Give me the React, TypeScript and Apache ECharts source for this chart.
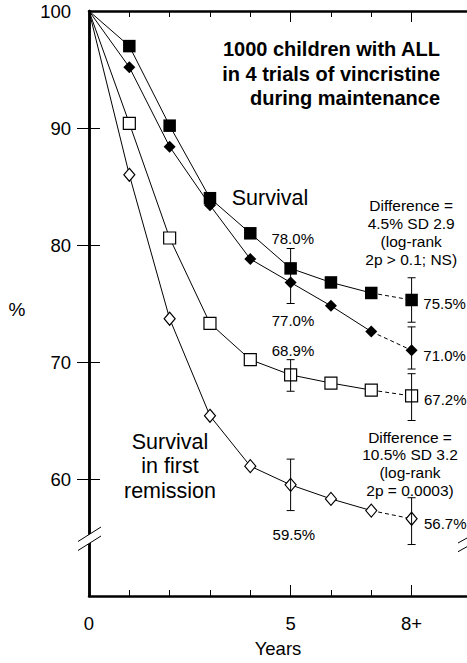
import React, { useEffect, useRef } from "react";
import * as echarts from "echarts";

// ---- data ----
const years = [0, 1, 2, 3, 4, 5, 6, 7, 8];
const survivalSquare = [100, 97.0, 90.2, 84.0, 81.0, 78.0, 76.8, 75.9, 75.3];
const survivalDiamond = [100, 95.2, 88.4, 83.4, 78.8, 76.8, 74.8, 72.6, 71.0];
const remissionSquare = [100, 90.4, 80.6, 73.3, 70.2, 68.9, 68.2, 67.6, 67.1];
const remissionDiamond = [100, 86.0, 73.7, 65.4, 61.1, 59.5, 58.3, 57.3, 56.6];
// [year, low, high]
const errorBars = [
  [5, 75.0, 79.7],
  [8, 73.4, 77.2],
  [8, 69.4, 73.0],
  [5, 67.5, 70.2],
  [8, 65.0, 69.0],
  [5, 57.3, 61.7],
  [8, 54.4, 58.4],
];
const yLabelValues = [60, 70, 80, 90, 100];
const yTickValues = [60, 70, 80, 90];
const xLabelValues = [0, 5, 8];
const xMinorTicks = [1, 2, 3, 4, 6, 7];
const xMajorTicks = [5, 8];

const FONT = '"Liberation Sans", Arial, Helvetica, sans-serif';
const X_MAX = 9.374;

function groupSeries(values: number[], symbol: string, size: any, filled: boolean) {
  const itemStyle = filled
    ? { color: "#000" }
    : { color: "#fff", borderColor: "#000", borderWidth: 1.2 };
  const solid = years.slice(0, 8).map((yr, i) =>
    i === 0 ? { value: [yr, values[i]], symbol: "none" } : { value: [yr, values[i]] }
  );
  const dashed = [
    { value: [years[7], values[7]], symbol: "none" },
    { value: [years[8], values[8]] },
  ];
  const common: any = {
    type: "line",
    xAxisIndex: 0,
    yAxisIndex: 0,
    symbol,
    symbolSize: size,
    itemStyle,
    z: 3,
  };
  return [
    { ...common, data: solid, lineStyle: { color: "#000", width: 1 } },
    { ...common, data: dashed, lineStyle: { color: "#000", width: 1, type: [4, 3] } },
  ];
}

function txt(text: string, x: number, y: number, fontSize: number, align: string, extra: any = {}) {
  return {
    type: "text",
    x,
    y,
    z: 50,
    style: {
      text,
      fill: "#000",
      fontSize,
      fontFamily: FONT,
      align,
      verticalAlign: "middle",
      ...extra,
    },
  };
}

export default function App() {
  const ref = useRef<HTMLDivElement>(null);
  useEffect(() => {
    document.body.style.margin = "0";
    if (!ref.current) return;
    const chart = echarts.init(ref.current, undefined, { renderer: "svg" });
    const axisLine = { show: true, lineStyle: { color: "#000", width: 2.5 } };
    const noLabel = { show: false };
    const option: any = {
      animation: false,
      grid: { left: 89, right: -4, top: 11, bottom: 63 },
      xAxis: [
        {
          type: "value",
          position: "bottom",
          min: 0,
          max: X_MAX,
          axisLine,
          splitLine: { show: false },
          axisTick: { show: true, inside: true, length: 6, customValues: xMinorTicks, lineStyle: { color: "#000", width: 1 } },
          axisLabel: {
            show: true,
            customValues: xLabelValues,
            formatter: (v: number) => (v === 8 ? "8+" : String(v)),
            color: "#000",
            fontSize: 18.5,
            fontFamily: FONT,
            margin: 18,
          },
          name: "Years",
          nameLocation: "middle",
          nameGap: 43,
          nameTextStyle: { color: "#000", fontSize: 18.5, fontFamily: FONT },
        },
        {
          type: "value",
          position: "bottom",
          min: 0,
          max: X_MAX,
          axisLine: { show: false },
          splitLine: { show: false },
          axisTick: { show: true, inside: true, length: 11, customValues: xMajorTicks, lineStyle: { color: "#000", width: 1 } },
          axisLabel: noLabel,
        },
        {
          type: "value",
          position: "top",
          min: 0,
          max: X_MAX,
          axisLine,
          splitLine: { show: false },
          axisTick: { show: true, inside: true, length: 6, customValues: xMinorTicks, lineStyle: { color: "#000", width: 1 } },
          axisLabel: noLabel,
        },
        {
          type: "value",
          position: "top",
          min: 0,
          max: X_MAX,
          axisLine: { show: false },
          splitLine: { show: false },
          axisTick: { show: true, inside: true, length: 11, customValues: xMajorTicks, lineStyle: { color: "#000", width: 1 } },
          axisLabel: noLabel,
        },
      ],
      yAxis: [
        {
          type: "value",
          position: "left",
          min: 50,
          max: 100,
          interval: 10,
          axisLine,
          splitLine: { show: false },
          axisTick: { show: true, inside: true, length: 11, customValues: yTickValues, lineStyle: { color: "#000", width: 1 } },
          axisLabel: {
            show: true,
            customValues: yLabelValues,
            color: "#000",
            fontSize: 18.5,
            fontFamily: FONT,
            margin: 18,
          },
        },
        {
          type: "value",
          position: "right",
          min: 50,
          max: 100,
          interval: 10,
          axisLine,
          splitLine: { show: false },
          axisTick: { show: true, inside: true, length: 12, customValues: yTickValues, lineStyle: { color: "#000", width: 1 } },
          axisLabel: noLabel,
        },
      ],
      series: [
        ...groupSeries(survivalSquare, "rect", 12.5, true),
        ...groupSeries(survivalDiamond, "diamond", 12, true),
        ...groupSeries(remissionSquare, "rect", 12, false),
        ...groupSeries(remissionDiamond, "diamond", [11, 13], false),
        {
          type: "custom",
          xAxisIndex: 0,
          yAxisIndex: 0,
          z: 5,
          data: errorBars,
          encode: { x: 0, y: [1, 2] },
          renderItem: (params: any, api: any) => {
            const x = api.value(0);
            const lo = api.coord([x, api.value(1)]);
            const hi = api.coord([x, api.value(2)]);
            const hw = 4;
            const st = { stroke: "#000", lineWidth: 1 };
            return {
              type: "group",
              children: [
                { type: "line", shape: { x1: lo[0], y1: lo[1], x2: hi[0], y2: hi[1] }, style: st },
                { type: "line", shape: { x1: lo[0] - hw, y1: lo[1], x2: lo[0] + hw, y2: lo[1] }, style: st },
                { type: "line", shape: { x1: hi[0] - hw, y1: hi[1], x2: hi[0] + hw, y2: hi[1] }, style: st },
              ],
            };
          },
        },
      ],
      graphic: [
        // axis break marks (left)
        { type: "polygon", z: 100, shape: { points: [[78, 541.5], [101, 527], [101, 536], [78, 550.5]] }, style: { fill: "#fff" } },
        { type: "line", z: 101, shape: { x1: 78, y1: 541.5, x2: 101, y2: 527 }, style: { stroke: "#000", lineWidth: 1 } },
        { type: "line", z: 101, shape: { x1: 78, y1: 550.5, x2: 101, y2: 536 }, style: { stroke: "#000", lineWidth: 1 } },
        // axis break marks (right)
        { type: "polygon", z: 100, shape: { points: [[458, 543], [484, 528.6], [484, 537.3], [458, 551.7]] }, style: { fill: "#fff" } },
        { type: "line", z: 101, shape: { x1: 458, y1: 543, x2: 484, y2: 528.6 }, style: { stroke: "#000", lineWidth: 1 } },
        { type: "line", z: 101, shape: { x1: 458, y1: 551.7, x2: 484, y2: 537.3 }, style: { stroke: "#000", lineWidth: 1 } },
        // y axis name
        txt("%", 17, 309, 19, "center"),
        // title
        txt("1000 children with ALL\nin 4 trials of vincristine\nduring maintenance", 440, 73.8, 20, "right", {
          fontWeight: "bold",
          lineHeight: 24.6,
        }),
        txt("Survival", 231.7, 198.3, 21.5, "left"),
        txt("Difference =\n4.5% SD 2.9\n(log-rank\n2p > 0.1; NS)", 411.2, 232.5, 15.5, "center", { lineHeight: 18.3 }),
        txt("78.0%", 292.7, 238.7, 15, "center"),
        txt("77.0%", 293, 320.5, 15, "center"),
        txt("68.9%", 293, 350.5, 15, "center"),
        txt("59.5%", 293.8, 534, 15, "center"),
        txt("75.5%", 423.3, 303, 15, "left"),
        txt("71.0%", 423.3, 355, 15, "left"),
        txt("67.2%", 424, 399.7, 15, "left"),
        txt("56.7%", 424, 523.8, 15, "left"),
        txt("Difference =\n10.5% SD 3.2\n(log-rank\n2p = 0.0003)", 410, 463.7, 15.5, "center", { lineHeight: 17.6 }),
        txt("Survival\nin first\nremission", 170, 466.3, 21.5, "center", { lineHeight: 24.5 }),
      ],
    };
    chart.setOption(option);
    return () => chart.dispose();
  }, []);
  return <div ref={ref} style={{ width: 467, height: 663 }} />;
}
